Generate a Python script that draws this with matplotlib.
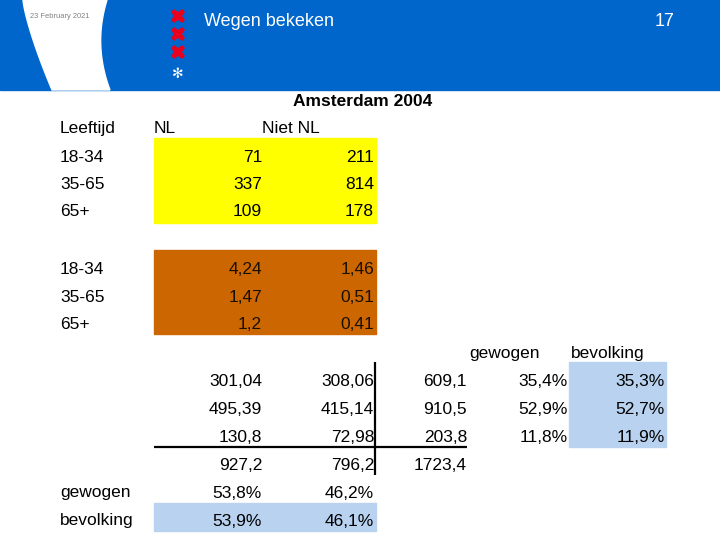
import matplotlib
matplotlib.use("Agg")
import matplotlib.pyplot as plt
import numpy as np
from matplotlib.patches import Rectangle, Polygon

plt.rcParams['font.family'] = ['Liberation Sans', 'DejaVu Sans']

# ---------------- data ----------------
date_text = "23 February 2021"
slide_title = "Wegen bekeken"
page_number = "17"
table_title = "Amsterdam 2004"
age_header = "Leeftijd"
col_headers = ["NL", "Niet NL"]
ages = ["18-34", "35-65", "65+"]
nl_counts = [71, 337, 109]
niet_nl_counts = [211, 814, 178]
nl_weights = [4.24, 1.47, 1.2]
niet_nl_weights = [1.46, 0.51, 0.41]
weighted_nl = [301.04, 495.39, 130.8]
weighted_niet_nl = [308.06, 415.14, 72.98]
weighted_row_total = [609.1, 910.5, 203.8]
weighted_col_total = [927.2, 796.2, 1723.4]
pct_headers = ["gewogen", "bevolking"]
gewogen_row_pct = [35.4, 52.9, 11.8]
bevolking_row_pct = [35.3, 52.7, 11.9]
bottom_labels = ["gewogen", "bevolking"]
gewogen_col_pct = [53.8, 46.2]
bevolking_col_pct = [53.9, 46.1]

def nl(v):
    return str(v).replace('.', ',')

def pct(v):
    return f"{v:.1f}%".replace('.', ',')

# ---------------- layout ----------------
fig = plt.figure(figsize=(7.2, 5.4), dpi=100)
ax = fig.add_axes([0, 0, 1, 1])
ax.set_xlim(0, 720)
ax.set_ylim(540, 0)
ax.axis('off')

BLUE = '#0066CC'
FS = 12.5

# header band
ax.add_patch(Rectangle((0, 0), 720, 90, color=BLUE, zorder=1))
t = np.linspace(0, 1, 40)
left_x = 23 + 29 * t ** 1.3
right_x = 107 - 28 * t + 31 * t ** 2
ys = 90 * t
poly = np.vstack([np.column_stack([left_x, ys]), np.column_stack([right_x[::-1], ys[::-1]])])
ax.add_patch(Polygon(poly, closed=True, color='white', zorder=2))
ax.text(30, 16, date_text, fontsize=5.4, color='#808080', va='center', ha='left', zorder=3)
for yy in [16, 34, 52]:
    ax.plot([178], [yy], marker='X', markersize=10.5, color='#E8001C', markeredgewidth=0, zorder=3)
ax.text(178, 74, "✻", fontsize=10, color='white', ha='center', va='center', zorder=3,
        family=['DejaVu Sans'])
ax.text(204, 20, slide_title, fontsize=13, color='white', ha='left', va='center_baseline', zorder=3)
ax.text(675, 20, page_number, fontsize=13, color='white', ha='right', va='center_baseline', zorder=3)

ax.text(363, 100, table_title, fontsize=12.5, fontweight='bold', ha='center', va='center_baseline')

# column headers
ax.text(60, 127, age_header, fontsize=FS, ha='left', va='center_baseline')
ax.text(154, 127, col_headers[0], fontsize=FS, ha='left', va='center_baseline')
ax.text(262, 127, col_headers[1], fontsize=FS, ha='left', va='center_baseline')

LABEL_X = 60
C1, C2, C3, C4, C5 = 262, 374, 467, 568, 665

# block 1: counts
rows1 = [155.5, 183, 210.5]
ax.add_patch(Rectangle((154, 138), 222, 85, color='#FFFF00', zorder=0))
for i, a in enumerate(ages):
    y = rows1[i]
    ax.text(LABEL_X, y, a, fontsize=FS, ha='left', va='center_baseline')
    ax.text(C1, y, str(nl_counts[i]), fontsize=FS, ha='right', va='center_baseline')
    ax.text(C2, y, str(niet_nl_counts[i]), fontsize=FS, ha='right', va='center_baseline')

# block 2: weights
rows2 = [268, 295.5, 323]
ax.add_patch(Rectangle((154, 250), 222, 84, color='#CC6600', zorder=0))
for i, a in enumerate(ages):
    y = rows2[i]
    ax.text(LABEL_X, y, a, fontsize=FS, ha='left', va='center_baseline')
    ax.text(C1, y, nl(nl_weights[i]), fontsize=FS, ha='right', va='center_baseline', color='#1a1000')
    ax.text(C2, y, nl(niet_nl_weights[i]), fontsize=FS, ha='right', va='center_baseline', color='#1a1000')

# block 3: weighted
ax.text(505, 352, pct_headers[0], fontsize=FS, ha='center', va='center_baseline')
ax.text(608, 352, pct_headers[1], fontsize=FS, ha='center', va='center_baseline')
ax.add_patch(Rectangle((569, 362), 97, 85, color='#B8D2F0', zorder=0))
rows3 = [380, 408, 436]
for i in range(3):
    y = rows3[i]
    ax.text(C1, y, nl(weighted_nl[i]), fontsize=FS, ha='right', va='center_baseline')
    ax.text(C2, y, nl(weighted_niet_nl[i]), fontsize=FS, ha='right', va='center_baseline')
    ax.text(C3, y, nl(weighted_row_total[i]), fontsize=FS, ha='right', va='center_baseline')
    ax.text(C4, y, pct(gewogen_row_pct[i]), fontsize=FS, ha='right', va='center_baseline')
    ax.text(C5, y, pct(bevolking_row_pct[i]), fontsize=FS, ha='right', va='center_baseline')

ax.plot([154, 467], [446.5, 446.5], color='black', lw=1.6, solid_capstyle='butt')
ax.plot([374.5, 374.5], [362, 475], color='black', lw=1.6, solid_capstyle='butt')

ytot = 464
for x, v in zip([C1, C2, C3], weighted_col_total):
    ax.text(x, ytot, nl(v), fontsize=FS, ha='right', va='center_baseline')

ax.add_patch(Rectangle((154, 503), 222, 28, color='#B8D2F0', zorder=0))
for y, lab, vals in zip([491.5, 519.5], bottom_labels, [gewogen_col_pct, bevolking_col_pct]):
    ax.text(LABEL_X, y, lab, fontsize=FS, ha='left', va='center_baseline')
    ax.text(C1, y, pct(vals[0]), fontsize=FS, ha='right', va='center_baseline')
    ax.text(C2, y, pct(vals[1]), fontsize=FS, ha='right', va='center_baseline')

fig.savefig('out.png', dpi=100)
